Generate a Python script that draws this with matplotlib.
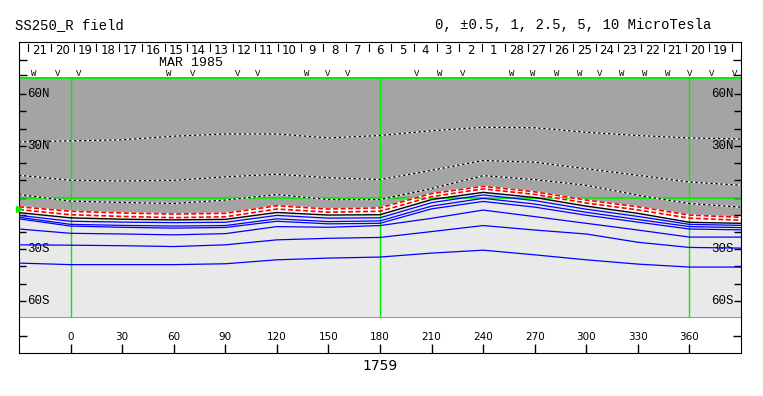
import matplotlib
matplotlib.use("Agg")
import matplotlib.pyplot as plt

# longitude samples (Carrington deg)
lons = [-30, 0, 30, 60, 90, 120, 150, 180, 210, 240, 270, 300, 330, 360, 390]

# positive contours (dashed)
pos_10 = [32.3, 32.9, 33.5, 35.6, 36.9, 36.9, 34.6, 36.0, 38.8, 40.8, 40.5, 37.9, 36.0, 34.6, 34.0]
pos_5 = [12.9, 10.0, 9.6, 10.0, 12.0, 13.5, 11.5, 10.4, 15.8, 21.5, 20.5, 16.7, 12.9, 9.0, 7.1]
pos_25 = [1.7, -2.1, -2.9, -3.5, -1.5, 1.7, -1.2, -1.2, 5.2, 12.7, 10.4, 7.1, 1.3, -3.5, -5.6]
pos_1 = [-5.4, -8.0, -9.0, -9.6, -9.2, -4.8, -6.7, -6.0, 2.3, 6.5, 3.3, -1.5, -5.4, -10.2, -11.5]
pos_05 = [-7.0, -10.0, -11.0, -11.7, -11.2, -6.7, -8.5, -8.0, 0.5, 5.0, 1.8, -3.2, -7.2, -12.0, -13.2]
# neutral line
neutral = [-8.8, -11.8, -12.6, -13.0, -12.7, -8.7, -10.2, -10.0, -1.2, 3.0, 0.0, -5.0, -9.2, -14.4, -15.0]
# negative contours (blue)
neg = [
    [-10.4, -13.8, -14.3, -14.6, -14.4, -10.4, -12.0, -11.8, -3.0, 1.5, -1.8, -6.8, -11.0, -15.6, -16.2],
    [-11.5, -15.6, -16.2, -16.6, -16.3, -12.4, -14.0, -13.6, -5.0, -0.5, -3.8, -8.6, -12.8, -16.9, -17.5],
    [-12.4, -16.6, -17.3, -17.8, -17.4, -13.8, -15.3, -15.0, -6.6, -2.3, -5.6, -10.3, -14.3, -18.3, -18.8],
    [-18.3, -20.8, -21.2, -21.7, -21.0, -16.9, -17.3, -16.3, -12.1, -7.3, -11.1, -15.0, -18.9, -23.0, -23.0],
    [-27.5, -27.7, -28.0, -28.5, -27.5, -24.6, -23.7, -23.2, -19.8, -16.3, -18.9, -21.2, -26.0, -29.0, -29.4],
    [-38.1, -39.0, -39.0, -39.0, -38.5, -36.2, -35.2, -34.6, -32.3, -30.6, -33.3, -36.2, -38.7, -40.4, -40.4],
]

# date strip
days = list(range(21, 0, -1)) + list(range(28, 18, -1))
day_start = -24.56
deg_per_day = 13.2
marks = ["W", "V", "V", "W", "V", "V", "V", "W", "V", "V", "V", "W", "V",
         "W", "W", "W", "W", "V", "W", "W", "W", "V", "V", "V"]
mark_lons = [-21.5, -7.5, 4.6, 56.9, 70.8, 97, 108.6, 137.6, 149.8, 161.4, 201.5,
             214.8, 228.2, 256.6, 268.8, 282.8, 296.1, 307.7, 320.5, 333.9, 347.2,
             360, 372.8, 386.2]

xticks = list(range(0, 361, 30))
lat_labels = {60: "60N", 30: "30N", -30: "30S", -60: "60S"}

W, H = 763, 396
fig = plt.figure(figsize=(W / 100, H / 100), dpi=100)
mono = "Liberation Mono"
green = "#00ee00"


def box(top, bottom):
    return [19 / W, 1 - bottom / H, 722 / W, (bottom - top) / H]


# ---- main panel
ax = fig.add_axes(box(77, 318))
ax.set_xlim(-30, 390)
ax.set_ylim(-70, 70)
ax.fill_between(lons, pos_1, 70, color="#a4a4a4", lw=0)
ax.fill_between(lons, neutral, pos_1, color="white", lw=0)
ax.fill_between(lons, -70, neutral, color="#e9e9e9", lw=0)

for x in (0, 180, 360):
    ax.axvline(x, color=green, lw=1, zorder=2)
ax.axhline(0, color=green, lw=1.2, zorder=2)
ax.axhline(70, color=green, lw=2, zorder=2)
ax.axhline(-70, color=green, lw=2, zorder=2)

for line in (pos_10, pos_5, pos_25):
    ax.plot(lons, line, color="white", lw=0.9, zorder=3)
    ax.plot(lons, line, color="black", lw=0.9, dashes=(2, 2), zorder=4)
for line in (pos_1, pos_05):
    ax.plot(lons, line, color="white", lw=1.2, zorder=3)
    ax.plot(lons, line, color="red", lw=1.2, dashes=(3, 1.5), zorder=4)
ax.plot(lons, neutral, color="black", lw=1.0, zorder=4)
for line in neg:
    ax.plot(lons, line, color="blue", lw=0.9, zorder=4)

ax.set_yticks(range(-60, 61, 10))
ax.set_xticks([])
ax.tick_params(axis="y", direction="in", length=5, width=1, left=True, right=True,
               labelleft=False, labelright=False)
for s in ("top", "bottom"):
    ax.spines[s].set_visible(False)
for lat, lab in lat_labels.items():
    ax.text(-25.5, lat, lab, ha="left", va="center", fontsize=9, family=mono)
    ax.text(386, lat, lab, ha="right", va="center", fontsize=9, family=mono)
ax.plot([-30], [-6.5], marker=">", color=green, ms=4, clip_on=False, zorder=5)

# ---- top strip with dates
top = fig.add_axes(box(42, 77))
top.set_xlim(-30, 390)
top.set_ylim(0, 1)
top.spines["bottom"].set_visible(False)
top.set_xticks([])
top.set_yticks([0.06, 0.49])
top.tick_params(axis="y", direction="in", length=6, width=1, left=True, right=True,
                labelleft=False)
for i, d in enumerate(days):
    b = day_start + i * deg_per_day
    top.plot([b, b], [0.74, 0.93], color="black", lw=0.8)
    top.text(b + deg_per_day / 2, 0.77, str(d), ha="center", va="center",
             fontsize=8.5, family="DejaVu Sans")
b = day_start + len(days) * deg_per_day
top.plot([b, b], [0.74, 0.93], color="black", lw=0.8)
top.text(70, 0.4, "MAR 1985", ha="center", va="center", fontsize=9.5, family=mono)
for m, x in zip(marks, mark_lons):
    top.text(x, 0.1, m, ha="center", va="center", fontsize=6.5, family=mono)

# ---- bottom strip with longitudes
bot = fig.add_axes(box(318, 353))
bot.set_xlim(-30, 390)
bot.set_ylim(0, 1)
bot.spines["top"].set_visible(False)
bot.set_xticks(xticks)
bot.set_yticks([0.49])
bot.tick_params(axis="x", direction="in", length=6.5, width=1, labelbottom=False)
bot.tick_params(axis="y", direction="in", length=6, width=1, left=True, right=True,
                labelleft=False)
for x in xticks:
    bot.text(x, 0.46, str(x), ha="center", va="center", fontsize=7.5, family="DejaVu Sans")

fig.text(15 / W, 1 - 25 / H, "SS250_R field", ha="left", va="center", fontsize=10, family=mono)
fig.text(711 / W, 1 - 25 / H, "0, \u00b10.5, 1, 2.5, 5, 10 MicroTesla", ha="right",
         va="center", fontsize=10, family=mono)
fig.text(380 / W, 1 - 366 / H, "1759", ha="center", va="center", fontsize=10,
         family="DejaVu Sans")

fig.savefig("out.png", dpi=100)
